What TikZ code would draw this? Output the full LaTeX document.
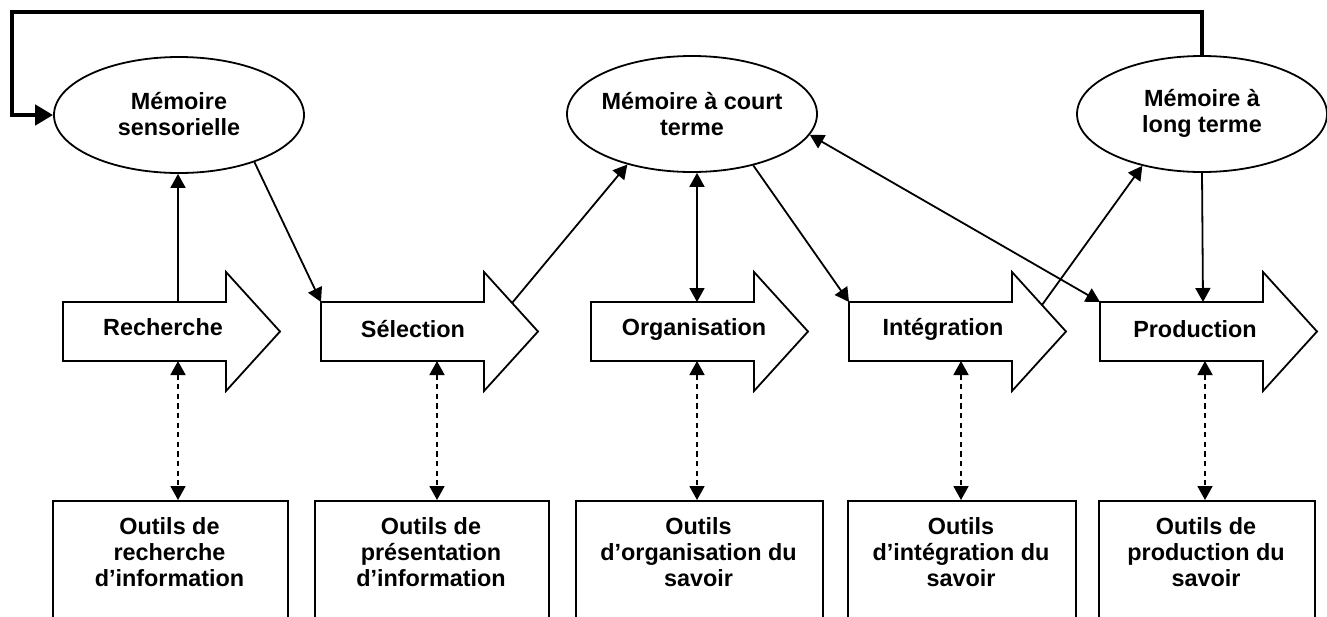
\documentclass[tikz,border=0pt]{standalone}
\usepackage{fontspec}
\setmainfont{Liberation Sans}
\usetikzlibrary{arrows.meta,shapes.geometric}
\begin{document}
\begin{tikzpicture}[x=0.5pt,y=-0.5pt,
  ln/.style={line width=0.9pt},
  arr/.style={ln,-{Triangle[length=7pt,width=7.5pt]}},
  barr/.style={ln,{Triangle[length=7pt,width=7.5pt]}-{Triangle[length=7pt,width=7.5pt]}},
  dsh/.style={barr,dash pattern=on 2.6pt off 2.2pt},
  fb/.style={line width=2.4pt,line join=miter,-{Triangle[length=9pt,width=10pt]}},
  blk/.style={ln,line join=miter,fill=white},
  mem/.style={ellipse,draw,ln,minimum width=125pt,minimum height=58pt,inner sep=0pt},
  lbl/.style={font=\bfseries\fontsize{11.7}{13}\selectfont,align=center,inner sep=0pt},
  tool/.style={draw,ln,anchor=north west,minimum height=58.5pt,inner sep=0pt}
]
\clip (0,0) rectangle (1327,616);

% memories
\node[mem] (ms) at (179,115) {};
\node[lbl] (mst) at (179,114) {Mémoire\\sensorielle};
\node[mem] (mct) at (692,114) {};
\node[lbl] (mctt) at (692,114) {Mémoire à court\\terme};
\node[mem] (mlt) at (1202,114) {};
\node[lbl] (mltt) at (1202,113) {Mémoire à\\long terme};

% block arrows
\draw[blk] (63,302) -- ++(163,0) -- ++(0,-30) -- ++(54,59.5) -- ++(-54,59.5) -- ++(0,-30) -- ++(-163,0) -- cycle;
\node[lbl] (rech) at (163,327) {Recherche};
\draw[blk] (321,302) -- ++(163,0) -- ++(0,-30) -- ++(54,59.5) -- ++(-54,59.5) -- ++(0,-30) -- ++(-163,0) -- cycle;
\node[lbl] (sel) at (413,329) {Sélection};
\draw[blk] (591,302) -- ++(163,0) -- ++(0,-30) -- ++(54,59.5) -- ++(-54,59.5) -- ++(0,-30) -- ++(-163,0) -- cycle;
\node[lbl] (org) at (694,329) {Organisation};
\draw[blk] (849,302) -- ++(163,0) -- ++(0,-30) -- ++(54,59.5) -- ++(-54,59.5) -- ++(0,-30) -- ++(-163,0) -- cycle;
\node[lbl] (integ) at (943,329) {Intégration};
\draw[blk] (1100,302) -- ++(163,0) -- ++(0,-30) -- ++(54,59.5) -- ++(-54,59.5) -- ++(0,-30) -- ++(-163,0) -- cycle;
\node[lbl] (prod) at (1195,329) {Production};

% connection points on the block arrows
\coordinate (rech-t) at (178,302);
\coordinate (rech-b) at (178,361);
\coordinate (sel-nw) at (321,302);
\coordinate (sel-h) at (512,303);
\coordinate (sel-b) at (437,361);
\coordinate (org-t) at (697,302);
\coordinate (org-b) at (697,361);
\coordinate (int-nw) at (849,302);
\coordinate (int-h) at (1042,305);
\coordinate (int-b) at (961,361);
\coordinate (prod-nw) at (1100,302);
\coordinate (prod-t) at (1203,302);
\coordinate (prod-b) at (1205,361);

% tool boxes
\node[tool,minimum width=117.5pt] (b1) at (52,500) {};
\node[tool,minimum width=117pt] (b2) at (314,500) {};
\node[tool,minimum width=123.5pt] (b3) at (575,500) {};
\node[tool,minimum width=114pt] (b4) at (847,500) {};
\node[tool,minimum width=108pt] (b5) at (1098,500) {};
\node[lbl] (t1) at (169.5,552) {Outils de\\recherche\\d’information};
\node[lbl] (t2) at (431,552) {Outils de\\présentation\\d’information};
\node[lbl] (t3) at (698.5,552) {Outils\\d’organisation du\\savoir};
\node[lbl] (t4) at (961,552) {Outils\\d’intégration du\\savoir};
\node[lbl] (t5) at (1206,552) {Outils de\\production du\\savoir};

% connectors
\draw[arr] (rech-t) -- (rech-t |- ms.south);
\draw[arr] (ms.-32) -- (sel-nw);
\draw[arr] (sel-h) -- (mct.-142.7);
\draw[barr] (org-t) -- (org-t |- mct.south);
\draw[arr] (mct.-40.9) -- (int-nw);
\draw[arr] (int-h) -- (mlt.-139.2);
\draw[barr] (mct.-10.9) -- (prod-nw);
\draw[arr] (mlt.south) -- (prod-t);

% dashed links
\draw[dsh] (rech-b) -- (rech-b |- b1.north);
\draw[dsh] (sel-b) -- (sel-b |- b2.north);
\draw[dsh] (org-b) -- (org-b |- b3.north);
\draw[dsh] (int-b) -- (int-b |- b4.north);
\draw[dsh] (prod-b) -- (prod-b |- b5.north);

% feedback loop
\coordinate (fb1) at (1202,12);
\coordinate (fb2) at (12,12);
\coordinate (fb3) at (12,115);
\draw[fb] (mlt.north) -- (fb1) -- (fb2) -- (fb3) -- (ms.west);
\end{tikzpicture}
\end{document}
